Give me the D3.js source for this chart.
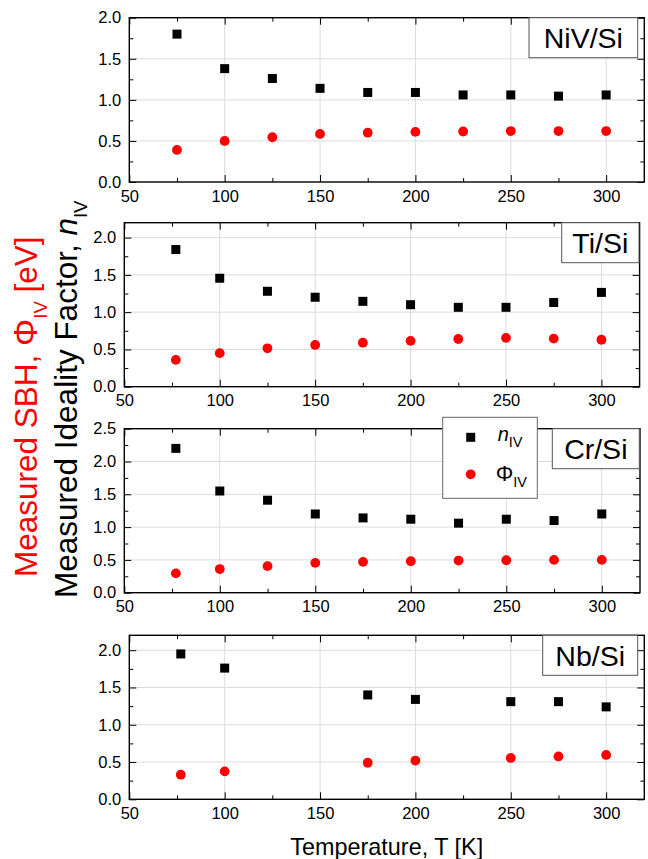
<!DOCTYPE html>
<html>
<head>
<meta charset="utf-8">
<script src="https://cdn.jsdelivr.net/npm/d3@7"></script>
<style>
  html, body { margin: 0; padding: 0; background: #fff; }
  svg { display: block; font-family: "Liberation Sans", Arial, sans-serif; }
</style>
</head>
<body>
<svg id="chart" width="648" height="859"></svg>
<script>
// Temperatures (K) of each sample series
const tempsNiV = [75, 100, 125, 150, 175, 200, 225, 250, 275, 300];
const tempsTi  = [77, 100, 125, 150, 175, 200, 225, 250, 275, 300];
const tempsCr  = [77, 100, 125, 150, 175, 200, 225, 250, 275, 300];
const tempsNb  = [77, 100, 175, 200, 250, 275, 300];

// Ideality factor n_IV
const idealityNiV = [1.80, 1.38, 1.26, 1.14, 1.09, 1.09, 1.06, 1.06, 1.045, 1.06];
const idealityTi  = [1.84, 1.455, 1.28, 1.20, 1.145, 1.10, 1.065, 1.065, 1.13, 1.265];
const idealityCr  = [2.20, 1.55, 1.41, 1.20, 1.14, 1.12, 1.06, 1.12, 1.10, 1.20];
const idealityNb  = [1.95, 1.76, 1.40, 1.34, 1.31, 1.31, 1.24];

// Schottky barrier height Phi_IV (eV)
const sbhNiV = [0.39, 0.50, 0.545, 0.585, 0.60, 0.61, 0.615, 0.62, 0.62, 0.62];
const sbhTi  = [0.36, 0.45, 0.515, 0.56, 0.59, 0.615, 0.64, 0.655, 0.645, 0.63];
const sbhCr  = [0.295, 0.36, 0.405, 0.455, 0.47, 0.48, 0.49, 0.495, 0.50, 0.50];
const sbhNb  = [0.33, 0.375, 0.49, 0.52, 0.555, 0.575, 0.595];

// Panel names and y-axis upper limits
const panelNames = ["NiV/Si", "Ti/Si", "Cr/Si", "Nb/Si"];
const yMaxes = [2.0, 2.2, 2.5, 2.2];

// Axis ticks
const xDomain = [50, 320];
const xMajorTicks = [50, 100, 150, 200, 250, 300];
const xMinorTicks = [75, 125, 175, 225, 275];
const yMajorTicks = [0, 0.5, 1.0, 1.5, 2.0, 2.5];
const yMinorTicks = [0.25, 0.75, 1.25, 1.75, 2.25];

const series = [
  { T: tempsNiV, n: idealityNiV, phi: sbhNiV },
  { T: tempsTi,  n: idealityTi,  phi: sbhTi },
  { T: tempsCr,  n: idealityCr,  phi: sbhCr },
  { T: tempsNb,  n: idealityNb,  phi: sbhNb }
];

// Panel frames: left, top, width, height; title box: x offset from right edge, width
const frames = [
  { left: 129.3, top: 17.7,  w: 515.0, h: 164.3, boxRight: 6.6, boxW: 108.7 },
  { left: 124.3, top: 222.7, w: 515.3, h: 164.0, boxRight: 0.6, boxW: 77.3 },
  { left: 124.3, top: 428.7, w: 515.7, h: 164.0, boxRight: 0.7, boxW: 87.0 },
  { left: 129.3, top: 635.3, w: 515.0, h: 164.0, boxRight: 6.6, boxW: 95.0 }
];

const RED = "#ff0000";
const GRID = "#dcdcdc";
const svg = d3.select("#chart");

panelNames.forEach((name, i) => {
  const f = frames[i];
  const s = series[i];
  const yMax = yMaxes[i];
  const x = d3.scaleLinear().domain(xDomain).range([0, f.w]);
  const y = d3.scaleLinear().domain([0, yMax]).range([f.h, 0]);
  const yMaj = yMajorTicks.filter(v => v <= yMax + 1e-9);
  const yMin = yMinorTicks.filter(v => v <= yMax + 1e-9);

  const g = svg.append("g").attr("transform", `translate(${f.left},${f.top})`);

  // grid
  g.append("g").selectAll("line.vx")
    .data(xMajorTicks.filter(v => v > xDomain[0])).join("line")
    .attr("x1", d => x(d)).attr("x2", d => x(d))
    .attr("y1", 0).attr("y2", f.h)
    .attr("stroke", GRID).attr("stroke-width", 1);
  g.append("g").selectAll("line.hy")
    .data(yMaj.filter(v => v > 0 && v < yMax)).join("line")
    .attr("x1", 0).attr("x2", f.w)
    .attr("y1", d => y(d)).attr("y2", d => y(d))
    .attr("stroke", GRID).attr("stroke-width", 1);

  const style = sel => {
    sel.select(".domain").remove();
    sel.selectAll(".tick line").attr("stroke", "#000").attr("stroke-width", 1);
    sel.selectAll(".tick text")
      .attr("fill", "#000").attr("font-size", 16.5)
      .attr("font-family", "'Liberation Sans', Arial, sans-serif");
  };

  // bottom axis with labels
  g.append("g").attr("transform", `translate(0,${f.h})`)
    .call(d3.axisBottom(x).tickValues(xMajorTicks).tickSizeInner(-7).tickSizeOuter(0)
      .tickPadding(8).tickFormat(d3.format("d")))
    .call(style);
  g.append("g").attr("transform", `translate(0,${f.h})`)
    .call(d3.axisBottom(x).tickValues(xMinorTicks).tickSizeInner(-4).tickSizeOuter(0).tickFormat(""))
    .call(style);
  // top axis ticks
  g.append("g")
    .call(d3.axisTop(x).tickValues(xMajorTicks).tickSizeInner(-7).tickSizeOuter(0).tickFormat(""))
    .call(style);
  g.append("g")
    .call(d3.axisTop(x).tickValues(xMinorTicks).tickSizeInner(-4).tickSizeOuter(0).tickFormat(""))
    .call(style);
  // left axis with labels
  g.append("g")
    .call(d3.axisLeft(y).tickValues(yMaj).tickSizeInner(-7).tickSizeOuter(0)
      .tickPadding(8).tickFormat(d3.format(".1f")))
    .call(style);
  g.append("g")
    .call(d3.axisLeft(y).tickValues(yMin).tickSizeInner(-4).tickSizeOuter(0).tickFormat(""))
    .call(style);
  // right axis ticks
  g.append("g").attr("transform", `translate(${f.w},0)`)
    .call(d3.axisRight(y).tickValues(yMaj).tickSizeInner(-7).tickSizeOuter(0).tickFormat(""))
    .call(style);
  g.append("g").attr("transform", `translate(${f.w},0)`)
    .call(d3.axisRight(y).tickValues(yMin).tickSizeInner(-4).tickSizeOuter(0).tickFormat(""))
    .call(style);

  // frame
  g.append("rect").attr("x", 0).attr("y", 0).attr("width", f.w).attr("height", f.h)
    .attr("fill", "none").attr("stroke", "#000").attr("stroke-width", 1.4);

  // ideality factor squares
  const sq = d3.symbol().type(d3.symbolSquare).size(81);
  g.append("g").selectAll("path")
    .data(s.T.map((t, k) => ({ t, v: s.n[k] }))).join("path")
    .attr("d", sq)
    .attr("transform", d => `translate(${x(d.t)},${y(d.v)})`)
    .attr("fill", "#000");

  // barrier height circles
  g.append("g").selectAll("circle")
    .data(s.T.map((t, k) => ({ t, v: s.phi[k] }))).join("circle")
    .attr("cx", d => x(d.t)).attr("cy", d => y(d.v)).attr("r", 4.9)
    .attr("fill", RED);

  // sample title box
  const bx = f.w - f.boxRight - f.boxW;
  g.append("rect").attr("x", bx).attr("y", 0).attr("width", f.boxW).attr("height", 40)
    .attr("fill", "#fff").attr("stroke", "#555").attr("stroke-width", 1);
  g.append("text").attr("x", bx + f.boxW / 2).attr("y", 30.5)
    .attr("text-anchor", "middle").attr("font-size", 28.5).attr("fill", "#000")
    .text(name);

  // legend in the Cr/Si panel
  if (i === 2) {
    const lg = g.append("g").attr("transform", `translate(${442.7 - f.left},${417.3 - f.top})`);
    lg.append("rect").attr("x", 0).attr("y", 0).attr("width", 94.6).attr("height", 81)
      .attr("fill", "#fff").attr("stroke", "#666").attr("stroke-width", 1);
    lg.append("path").attr("d", sq).attr("transform", "translate(28,20)").attr("fill", "#000");
    lg.append("circle").attr("cx", 28).attr("cy", 57).attr("r", 4.9).attr("fill", RED);
    const t1 = lg.append("text").attr("x", 55).attr("y", 23.5).attr("font-size", 20).attr("fill", "#000");
    t1.append("tspan").attr("font-style", "italic").text("n");
    t1.append("tspan").attr("font-size", 14.5).attr("dy", 6.5).text("IV");
    const t2 = lg.append("text").attr("x", 53).attr("y", 64).attr("font-size", 22).attr("fill", "#000");
    t2.append("tspan").text("\u03A6");
    t2.append("tspan").attr("font-size", 14.5).attr("dy", 6).text("IV");
  }
});

// y-axis titles (two lines, rotated)
const redLabel = svg.append("text")
  .attr("transform", "translate(36.5,577) rotate(-90)")
  .attr("text-anchor", "start").attr("font-size", 31.5).attr("fill", RED);
redLabel.append("tspan").text("Measured SBH, ");
redLabel.append("tspan").attr("font-size", 34).text("\u03A6");
redLabel.append("tspan").attr("font-size", 18.5).attr("dy", 10).text("IV");
redLabel.append("tspan").attr("dy", -10).text(" [eV]");

const blackLabel = svg.append("text")
  .attr("transform", "translate(76.5,598) rotate(-90)")
  .attr("text-anchor", "start").attr("font-size", 31.5).attr("fill", "#000");
blackLabel.append("tspan").text("Measured Ideality Factor, ");
blackLabel.append("tspan").attr("font-style", "italic").text("n");
blackLabel.append("tspan").attr("font-size", 18.5).attr("dy", 10).text("IV");

// x-axis title
svg.append("text").attr("x", 386.8).attr("y", 855)
  .attr("text-anchor", "middle").attr("font-size", 23.4).attr("fill", "#000")
  .text("Temperature, T [K]");
</script>
</body>
</html>
